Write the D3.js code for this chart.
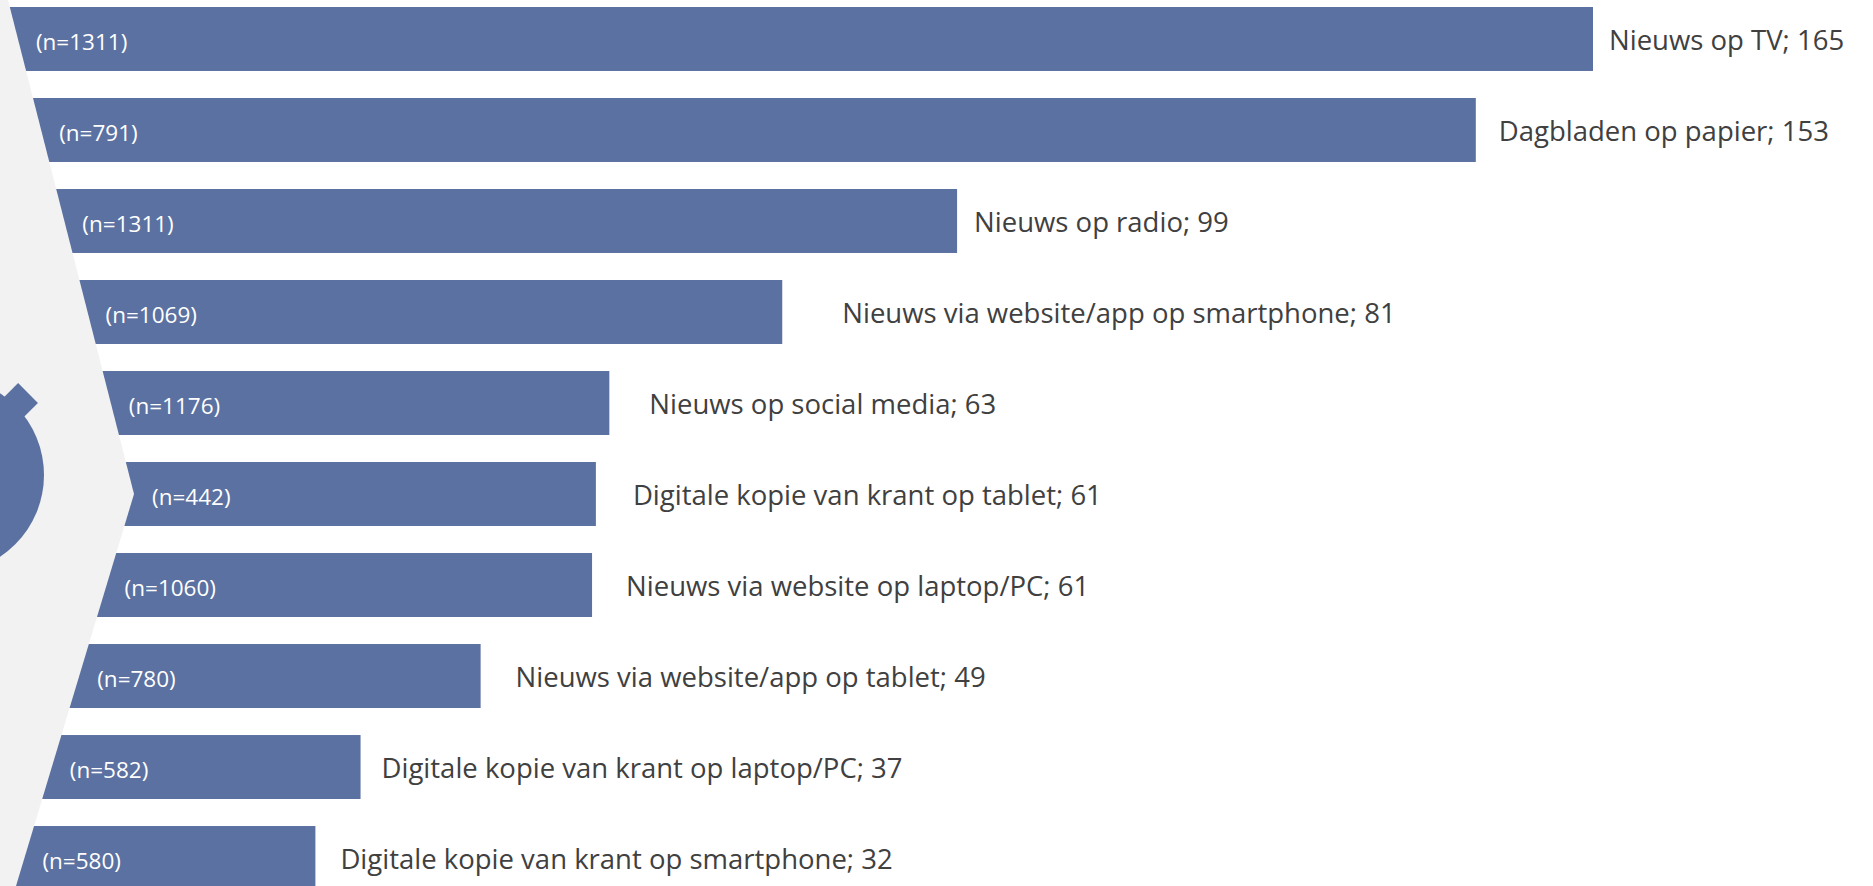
<!DOCTYPE html>
<html>
<head>
<meta charset="utf-8">
<script src="https://cdn.jsdelivr.net/npm/d3@7"></script>
<style>
    html, body { margin: 0; padding: 0; background: #fff; }
    svg { display: block; }
    text { font-family: "Open Sans", "Noto Sans", sans-serif; }
</style>
</head>
<body>
<svg id="chart"></svg>
<script>
// Data
const categories = [
    'Nieuws op TV',
    'Dagbladen op papier',
    'Nieuws op radio',
    'Nieuws via website/app op smartphone',
    'Nieuws op social media',
    'Digitale kopie van krant op tablet',
    'Nieuws via website op laptop/PC',
    'Nieuws via website/app op tablet',
    'Digitale kopie van krant op laptop/PC',
    'Digitale kopie van krant op smartphone'
];
const values = [165, 152.8, 98.8, 80.6, 62.6, 61.2, 60.8, 49.2, 36.7, 32.0];
const sampleSizes = ['1311', '791', '1311', '1069', '1176', '442', '1060', '780', '582', '580'];

// layout tweaks for the label gap after each bar (as in the original slide)
const labelGap = [16, 23, 17, 60, 40, 37, 34, 35, 21, 25];

const width = 1873;
const height = 886;
const barColor = '#5b71a1';
const textColor = '#404040';

const svg = d3.select('#chart')
    .attr('width', width)
    .attr('height', height);

const x = d3.scaleLinear()
    .domain([0, 165])
    .range([8, 1593]);

const y = d3.scaleBand()
    .domain(categories)
    .range([7, 890])
    .paddingInner(0.297)
    .paddingOuter(0);

const rows = categories.map((c, i) => ({ cat: c, value: values[i], n: sampleSizes[i], gap: labelGap[i] }));

// Bars
svg.append('g')
    .selectAll('rect')
    .data(rows)
    .join('rect')
    .attr('x', x(0))
    .attr('y', d => y(d.cat))
    .attr('width', d => x(d.value) - x(0))
    .attr('height', y.bandwidth())
    .attr('fill', barColor);

// Grey chevron panel on the left, pointing at the middle bar
const apexY = y(categories[5]) + y.bandwidth() / 2;
const apexX = 134;
const edgeX = yy => yy <= apexY
    ? 8 + (apexX - 8) * yy / apexY
    : apexX - (apexX - 16) * (yy - apexY) / (height - apexY);

svg.append('path')
    .attr('d', d3.line()([[0, -2], [edgeX(-2), -2], [apexX, apexY], [edgeX(height + 2), height + 2], [0, height + 2]]) + 'Z')
    .attr('fill', '#f2f2f2');

// Stopwatch icon, mostly cut off at the left
const icon = svg.append('g').attr('transform', 'translate(-54,475)');
icon.append('circle')
    .attr('r', 98)
    .attr('fill', barColor);
icon.append('rect')
    .attr('transform', 'rotate(-45)')
    .attr('x', 88)
    .attr('y', -14)
    .attr('width', 28)
    .attr('height', 28)
    .attr('fill', barColor);

// (n=...) inside bars
svg.append('g')
    .selectAll('text')
    .data(rows)
    .join('text')
    .attr('x', d => edgeX(y(d.cat) + y.bandwidth() / 2) + 18)
    .attr('y', d => y(d.cat) + y.bandwidth() / 2 + 3)
    .attr('dy', '0.35em')
    .attr('fill', '#fff')
    .attr('font-size', 22.5)
    .text(d => `(n=${d.n})`);

// Category labels
svg.append('g')
    .selectAll('text')
    .data(rows)
    .join('text')
    .attr('x', d => x(d.value) + d.gap)
    .attr('y', d => y(d.cat) + y.bandwidth() / 2 + 1)
    .attr('dy', '0.35em')
    .attr('fill', textColor)
    .attr('font-size', 27.5)
    .text(d => `${d.cat}; ${d3.format('.0f')(d.value)}`);
</script>
</body>
</html>
